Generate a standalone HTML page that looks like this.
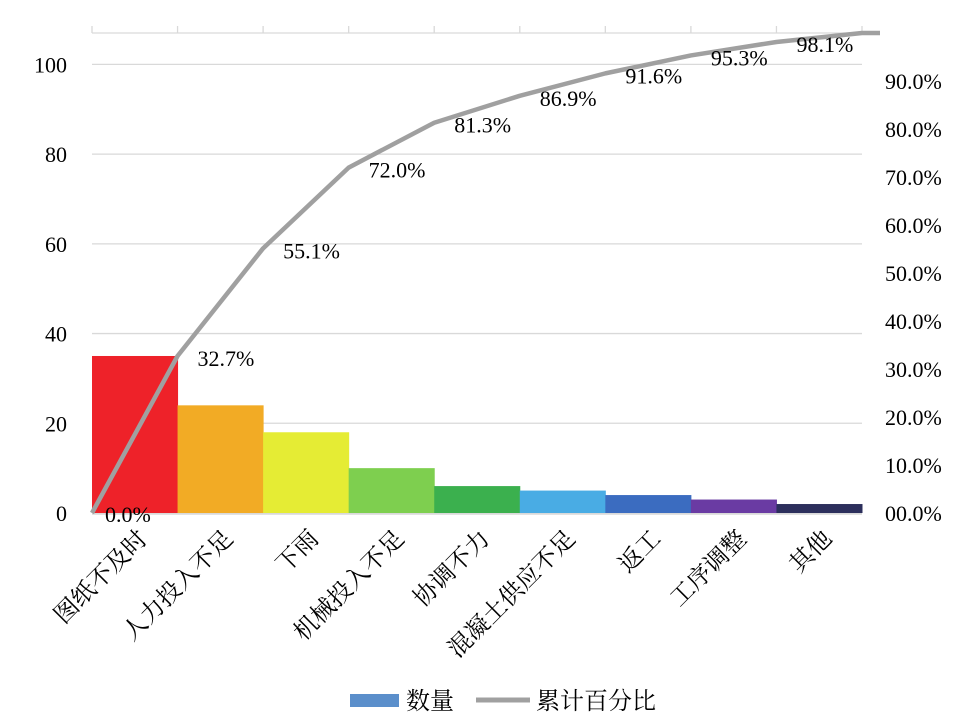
<!DOCTYPE html>
<html><head><meta charset="utf-8"><style>
html,body{margin:0;padding:0;background:#fff;}
svg{display:block;}
</style></head><body>
<svg id="chart" width="980" height="723" viewBox="0 0 980 723" xmlns="http://www.w3.org/2000/svg">
<defs><clipPath id="lblclip"><rect x="0" y="514" width="980" height="154"/></clipPath></defs>
<g id="grid"></g>
<g id="bars"></g>
<g id="axes"></g>
<g id="line"></g>
<g id="cats" clip-path="url(#lblclip)"></g>
<g>
  <rect x="350" y="694" width="49" height="13" fill="#5B8FCB"/>
  <text x="406" y="709" font-size="24" font-family="'Liberation Serif','Noto Serif CJK SC',serif">数量</text>
  <line x1="476" y1="700" x2="530" y2="700" stroke="#A0A0A0" stroke-width="5"/>
  <text x="536" y="709" font-size="24" font-family="'Liberation Serif','Noto Serif CJK SC',serif">累计百分比</text>
</g>
</svg>
<script>
const categories = ["图纸不及时","人力投入不足","下雨","机械投入不足","协调不力","混凝土供应不足","返工","工序调整","其他"];
const counts = [35,24,18,10,6,5,4,3,2];
const barColors = ["#EE2229","#F2AB25","#E5EC34","#7ECF4F","#3BB04E","#49ACE4","#3B6CC0","#6A3BA3","#2C2F5C"];
const leftTicks = [0,20,40,60,80,100];
const rightTicks = ["00.0%","10.0%","20.0%","30.0%","40.0%","50.0%","60.0%","70.0%","80.0%","90.0%"];

const NS="http://www.w3.org/2000/svg";
const X0=92,X1=862,Y0=513,YTOP=33;
const total=counts.reduce((a,b)=>a+b,0);
const bw=(X1-X0)/categories.length;
const yL=v=>Y0-(v/total)*(Y0-YTOP);
const yR=p=>Y0-(p/100)*(Y0-YTOP);
const xC=i=>X0+i*bw;
const serif="'Liberation Serif','Noto Serif CJK SC',serif";
function mk(tag,attrs,parent,text){const e=document.createElementNS(NS,tag);for(const k in attrs)e.setAttribute(k,attrs[k]);if(text!==undefined)e.textContent=text;document.getElementById(parent).appendChild(e);return e;}

leftTicks.forEach(v=>{
  const g=mk('line',{x1:X0,x2:X1,y1:yL(v),y2:yL(v),stroke:'#d9d9d9','stroke-width':1.3},'grid');
  
  
  const t=mk('text',{x:67,y:yL(v)+8,'text-anchor':'end','font-size':22,'font-family':serif},'axes',String(v));
  
  
});
rightTicks.forEach((s,i)=>{
  const t=mk('text',{x:885,y:yR(i*10)+8,'font-size':22,'font-family':serif},'axes',s);
  
  
});
// top secondary axis
const ta=mk('line',{x1:X0,x2:X1+18,y1:YTOP,y2:YTOP,stroke:'#d9d9d9','stroke-width':1.3},'axes');


for(let i=0;i<=categories.length;i++){
  const tk=mk('line',{x1:xC(i),x2:xC(i),y1:YTOP,y2:YTOP-7,stroke:'#d9d9d9','stroke-width':1.3},'axes');
  
  
}
counts.forEach((c,i)=>{
  const r=mk('rect',{x:xC(i),y:yL(c),width:bw+0.5,height:Y0-yL(c),fill:barColors[i]},'bars');
  
  
  const t=mk('text',{x:xC(i)+bw/2+14,y:540,'text-anchor':'end','font-size':24,'font-family':serif,transform:`rotate(-45 ${xC(i)+bw/2+14} 540)`},'cats',categories[i]);
  
  
});
const ba=mk('line',{x1:X0,x2:X1,y1:Y0+1,y2:Y0+1,stroke:'#d9d9d9','stroke-width':1.5},'axes');


// cumulative
const cum=[0];let s=0;counts.forEach(c=>{s+=c;cum.push(s/total*100);});
let pts=cum.map((p,i)=>xC(i)+','+yR(p));
pts.push((X1+18)+','+yR(cum[cum.length-1]));
const pl=mk('polyline',{points:pts.join(' '),fill:'none',stroke:'#A0A0A0','stroke-width':4.5,'stroke-linejoin':'round'},'line');


cum.slice(0,categories.length).forEach((p,i)=>{
  const t=mk('text',{x:xC(i)+(i===0?13:20),y:yR(p)+(i===0?9:10),'font-size':22,'font-family':serif},'line',p.toFixed(1)+'%');
  
  
});
</script>
</body></html>
